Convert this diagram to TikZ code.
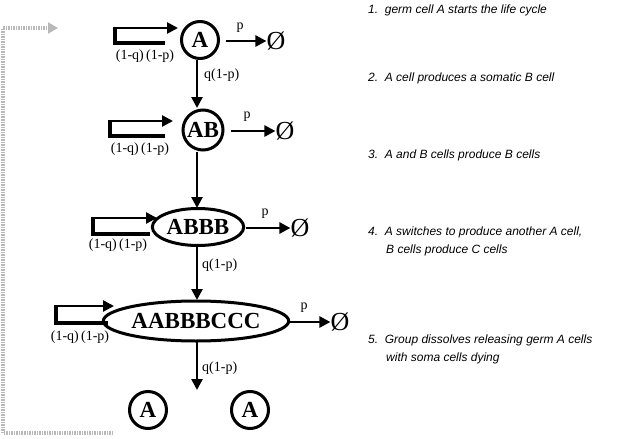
\documentclass[tikz,border=0pt]{standalone}
\usepackage{fontspec}
\setmainfont{Liberation Serif}
\newfontfamily\notefont{Liberation Sans}
\usetikzlibrary{arrows.meta,shapes.geometric}
\begin{document}
\begin{tikzpicture}[x=1pt,y=-1pt,
  cell/.style={draw,line width=3pt,circle,minimum size=37pt,inner sep=0pt,font=\bfseries\fontsize{23}{23}\selectfont},
  ecell/.style={draw,line width=3pt,ellipse,inner sep=1pt,font=\bfseries\fontsize{23}{23}\selectfont},
  arr/.style={line width=2.6pt,-{Triangle[length=11pt,width=11pt]}},
  brk/.style={line width=3.2pt},
  lab/.style={font=\fontsize{14}{14}\selectfont,inner sep=1pt},
  empt/.style={font=\fontsize{26}{26}\selectfont,inner sep=0pt},
  note/.style={anchor=west,font=\notefont\itshape\fontsize{12}{13}\selectfont,inner sep=0pt}]
\useasboundingbox (0,0) rectangle (640,439);
% row 1
\node[cell] (a1) at (200,40) {A};
\node[empt] (e1) at (276,41) {Ø};
\draw[arr] (226,41) -- (e1.west);
\node[lab] at (240,28) {p};
\draw[brk] (165,43) -- (115,43) -- (115,28);
\draw[arr] (113.4,28) -- (178,28);
\node[lab] at (145,56) {(1-q)\,(1-p)};
% row 2
\node[cell,minimum size=40pt] (a2) at (203,130) {AB};
\node[empt] (e2) at (285,131) {Ø};
\draw[arr] (231,131) -- (e2.west);
\node[lab] at (247,117) {p};
\draw[brk] (165,136) -- (110,136) -- (110,121);
\draw[arr] (108.4,121) -- (173,121);
\node[lab] at (140,149) {(1-q)\,(1-p)};
% row 3
\node[ecell,minimum width=86pt,minimum height=37pt] (a3) at (198,227) {ABBB};
\node[empt] (e3) at (300,228) {Ø};
\draw[arr] (246,228) -- (e3.west);
\node[lab] at (265,214) {p};
\draw[brk] (150,234) -- (93,234) -- (93,218);
\draw[arr] (91.4,218) -- (157,218);
\node[lab] at (118,245) {(1-q)\,(1-p)};
% row 4
\node[ecell,minimum width=162pt,minimum height=40pt] (a4) at (196,321) {AABBBCCC};
\node[empt] (e4) at (340,322) {Ø};
\draw[arr] (290,322) -- (e4.west);
\node[lab] at (304,308) {p};
\draw[brk] (108,323) -- (56,323) -- (56,306);
\draw[arr] (54.4,306) -- (114,306);
\node[lab] at (80,337) {(1-q)\,(1-p)};
% row 5
\node[cell] (a5) at (148,410) {A};
\node[cell] (a6) at (250,410) {A};
% vertical transitions
\draw[arr] (197,60) -- (197,108);
\node[lab,anchor=west] at (203,75) {q(1-p)};
\draw[arr] (197,152) -- (197,208);
\draw[arr] (197,246) -- (197,300);
\node[lab,anchor=west] at (201,265) {q(1-p)};
\coordinate (b5) at (197,390);
\draw[arr] (197,342) -- (b5);
\node[lab,anchor=west] at (201,368) {q(1-p)};
% feedback
\coordinate (f0) at (113,433);
\coordinate (f1) at (3,28);
\draw[gray!55,line width=3.5pt,dash pattern=on 1.5pt off 1pt,-{Triangle[length=10pt,width=11pt]}]
  (f0) -- (3,433) -- (f1) -- (58,28);
% notes
\node[note] at (368,10) {1.\ \ germ cell A starts the life cycle};
\node[note] at (368,78) {2.\ \ A cell produces a somatic B cell};
\node[note] at (368,155) {3.\ \ A and B cells produce B cells};
\node[note] at (368,232) {4.\ \ A switches to produce another A cell,};
\node[note] at (386,250) {B cells produce C cells};
\node[note] at (368,340) {5.\ \ Group dissolves releasing germ A cells};
\node[note] at (386,358) {with soma cells dying};
\end{tikzpicture}
\end{document}
